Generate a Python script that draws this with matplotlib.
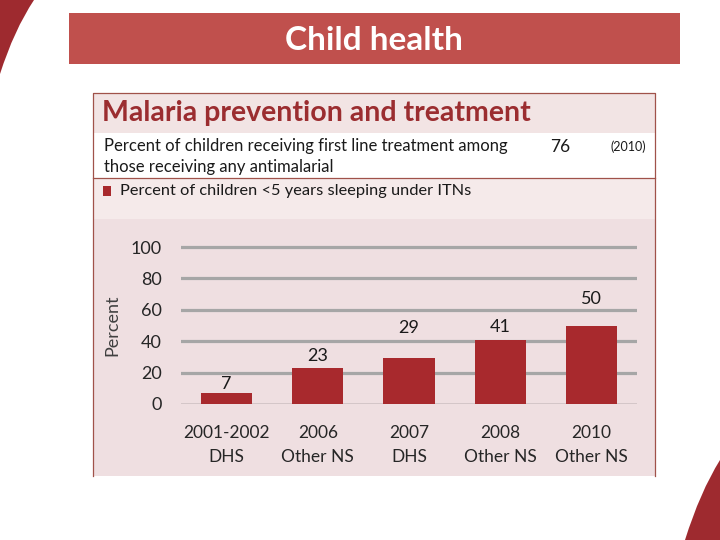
import matplotlib
matplotlib.use("Agg")
import matplotlib.pyplot as plt
from matplotlib.patches import Rectangle, PathPatch
from matplotlib.path import Path

plt.rcParams['font.family'] = ['Lato', 'DejaVu Sans']

# data
categories = ['2001-2002\nDHS', '2006\nOther NS', '2007\nDHS', '2008\nOther NS', '2010\nOther NS']
itn_values = [7, 23, 29, 41, 50]
yticks = [0, 20, 40, 60, 80, 100]
first_line_value = 76
first_line_year = '(2010)'

# label offsets above the bar top (pixels), as in the original layout
label_offsets = [9, 12, 30, 13, 26]

BAR = '#A8292D'
DARK = '#9E2A2F'

fig = plt.figure(figsize=(7.2, 5.4), dpi=100)

# background axes in pixel coords
bg = fig.add_axes([0, 0, 1, 1])
bg.set_xlim(0, 720)
bg.set_ylim(540, 0)
bg.axis('off')

# decorative corner shapes
tl = Path([(0, 0), (34, 0), (14, 30), (0, 74), (0, 0)],
          [Path.MOVETO, Path.LINETO, Path.CURVE3, Path.CURVE3, Path.CLOSEPOLY])
bg.add_patch(PathPatch(tl, fc=DARK, ec='none'))
br = Path([(720, 460), (700, 492), (685, 540), (720, 540), (720, 460)],
          [Path.MOVETO, Path.CURVE3, Path.CURVE3, Path.LINETO, Path.CLOSEPOLY])
bg.add_patch(PathPatch(br, fc=DARK, ec='none'))

# banner
bg.add_patch(Rectangle((69, 13), 611, 51, fc='#C0504D', ec='none'))
bg.text(374, 40, 'Child health', color='white', fontsize=24, fontweight='bold',
        ha='center', va='center')

# panel
bg.add_patch(Rectangle((93, 93), 562, 40, fc='#F2E4E4', ec='none'))
bg.add_patch(Rectangle((93, 133), 562, 45, fc='white', ec='none'))
bg.add_patch(Rectangle((93, 178), 562, 41, fc='#F5EAEA', ec='none'))
bg.add_patch(Rectangle((93, 219), 562, 257, fc='#EFDFE1', ec='none'))
bg.plot([93, 655], [178, 178], color='#A0524A', lw=0.9)
bg.plot([93, 93, 655, 655], [476, 93, 93, 476], color='#A0524A', lw=0.9)

bg.text(102, 113, 'Malaria prevention and treatment', color='#9B2D30',
        fontsize=20.5, fontweight='bold', ha='left', va='center')
bg.text(104, 146, 'Percent of children receiving first line treatment among',
        fontsize=12, color='#1A1A1A', ha='left', va='center')
bg.text(104, 167, 'those receiving any antimalarial',
        fontsize=12, color='#1A1A1A', ha='left', va='center')
bg.text(560, 147, str(first_line_value), fontsize=12.5, color='#1A1A1A',
        ha='center', va='center')
bg.text(628, 147, first_line_year, fontsize=9, color='#1A1A1A',
        ha='center', va='center')

bg.add_patch(Rectangle((103, 186), 8, 10, fc=BAR, ec='none'))
bg.text(120, 191, 'Percent of children <5 years sleeping under ITNs',
        fontsize=11.8, color='#1A1A1A', ha='left', va='center')
bg.text(112, 325, 'Percent', fontsize=13, color='#404040', rotation=90,
        ha='center', va='center')

# chart
ymax = 104
px_per_unit = (404 - 247) / 100
top = 404 - ymax * px_per_unit
ax = fig.add_axes([181 / 720, (540 - 404) / 540, (637 - 181) / 720, (404 - top) / 540])
ax.set_facecolor('none')
x = list(range(len(categories)))
for t in yticks[1:]:
    ax.axhline(t, color='#A6A6A6', lw=2.3, zorder=1)
ax.axhline(0, color='#1A1A1A', lw=0.9, zorder=1)
ax.bar(x, itn_values, width=0.56, color=BAR, zorder=2)
for xi, v, off in zip(x, itn_values, label_offsets):
    ax.annotate(str(v), (xi, v), xytext=(0, off), textcoords='offset pixels',
                ha='center', va='center', fontsize=13, color='#1A1A1A')
ax.set_xlim(-0.5, len(categories) - 0.5)
ax.set_ylim(0, ymax)
ax.set_yticks(yticks)
ax.set_yticklabels([str(t) for t in yticks], fontsize=13, color='#262626')
ax.set_xticks(x)
ax.set_xticklabels(categories, fontsize=12.5, color='#262626', linespacing=1.6)
ax.tick_params(length=0)
ax.tick_params(axis='y', pad=14)
ax.tick_params(axis='x', pad=15)
for s in ax.spines.values():
    s.set_visible(False)

fig.savefig('out.png', dpi=100)
